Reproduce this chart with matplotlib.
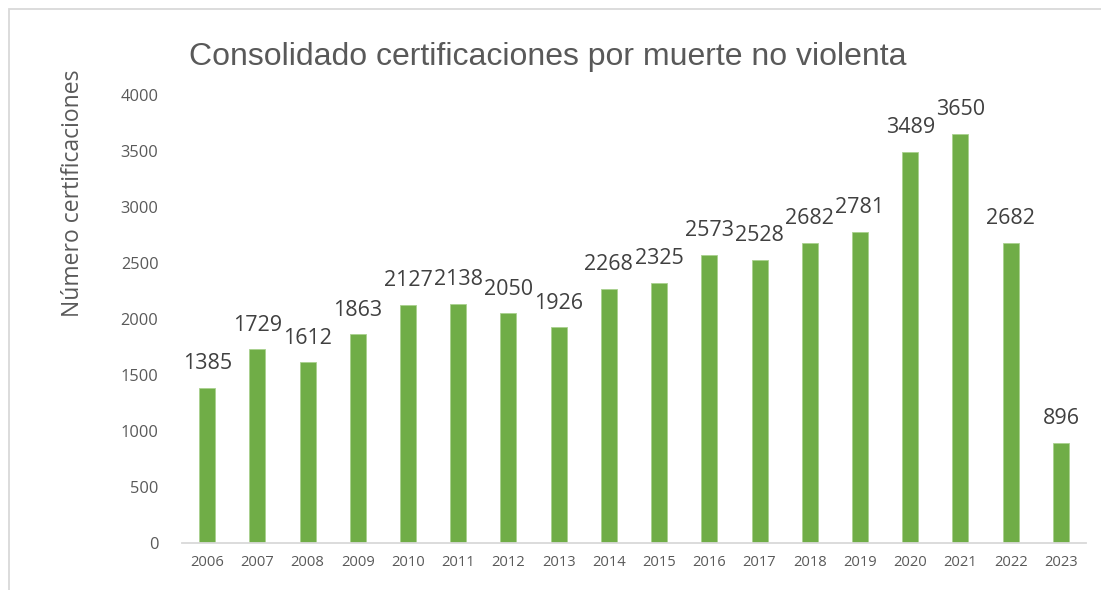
import matplotlib
matplotlib.use("Agg")
import matplotlib.pyplot as plt
from matplotlib.patches import Rectangle

years = ["2006", "2007", "2008", "2009", "2010", "2011", "2012", "2013", "2014",
         "2015", "2016", "2017", "2018", "2019", "2020", "2021", "2022", "2023"]
counts = [1385, 1729, 1612, 1863, 2127, 2138, 2050, 1926, 2268,
          2325, 2573, 2528, 2682, 2781, 3489, 3650, 2682, 896]
yticks = [0, 500, 1000, 1500, 2000, 2500, 3000, 3500, 4000]

green = "#70ad47"
grey = "#595959"

fig = plt.figure(figsize=(11.01, 5.90), dpi=100)
fig.patches.append(Rectangle((8.5 / 1101, -0.1), 1.2, (590 - 8.5) / 590 + 0.1,
                             transform=fig.transFigure, fill=False,
                             edgecolor="#d9d9d9", linewidth=1.3))
ax = fig.add_axes([182 / 1101, 47 / 590, 904 / 1101, 448 / 590])

x = list(range(len(years)))
bars = ax.bar(x, counts, width=0.32, color=green, edgecolor="#a9d18e", linewidth=0.6)

for xi, v in zip(x, counts):
    ax.annotate(str(v), (xi, v), xytext=(0, 13.5), textcoords="offset points",
                ha="center", va="baseline", fontsize=15.5, color="#404040",
                family="Open Sans")

ax.set_xlim(-0.5, len(years) - 0.5)
ax.set_ylim(0, 4000)
ax.set_yticks(yticks)
ax.set_xticks(x)
ax.set_xticklabels(years)
for s in ["top", "right", "left"]:
    ax.spines[s].set_visible(False)
ax.spines["bottom"].set_color("#d9d9d9")
ax.spines["bottom"].set_linewidth(1.3)
ax.tick_params(axis="both", length=0, colors=grey)
ax.tick_params(axis="y", pad=17)
ax.tick_params(axis="x", pad=9)
for lab in ax.get_yticklabels():
    lab.set_fontfamily("Open Sans")
    lab.set_fontsize(11.8)
for lab in ax.get_xticklabels():
    lab.set_fontfamily("Open Sans")
    lab.set_fontsize(10.6)

fig.text(548 / 1101, 1 - 57 / 590, "Consolidado certificaciones por muerte no violenta",
         ha="center", va="center", fontsize=23, color=grey, family="Liberation Sans")
fig.text(73 / 1101, 1 - 193 / 590, "Número certificaciones", rotation=90,
         ha="center", va="center", fontsize=16.5, color=grey, family="Open Sans")

fig.savefig("out.png", dpi=100)
